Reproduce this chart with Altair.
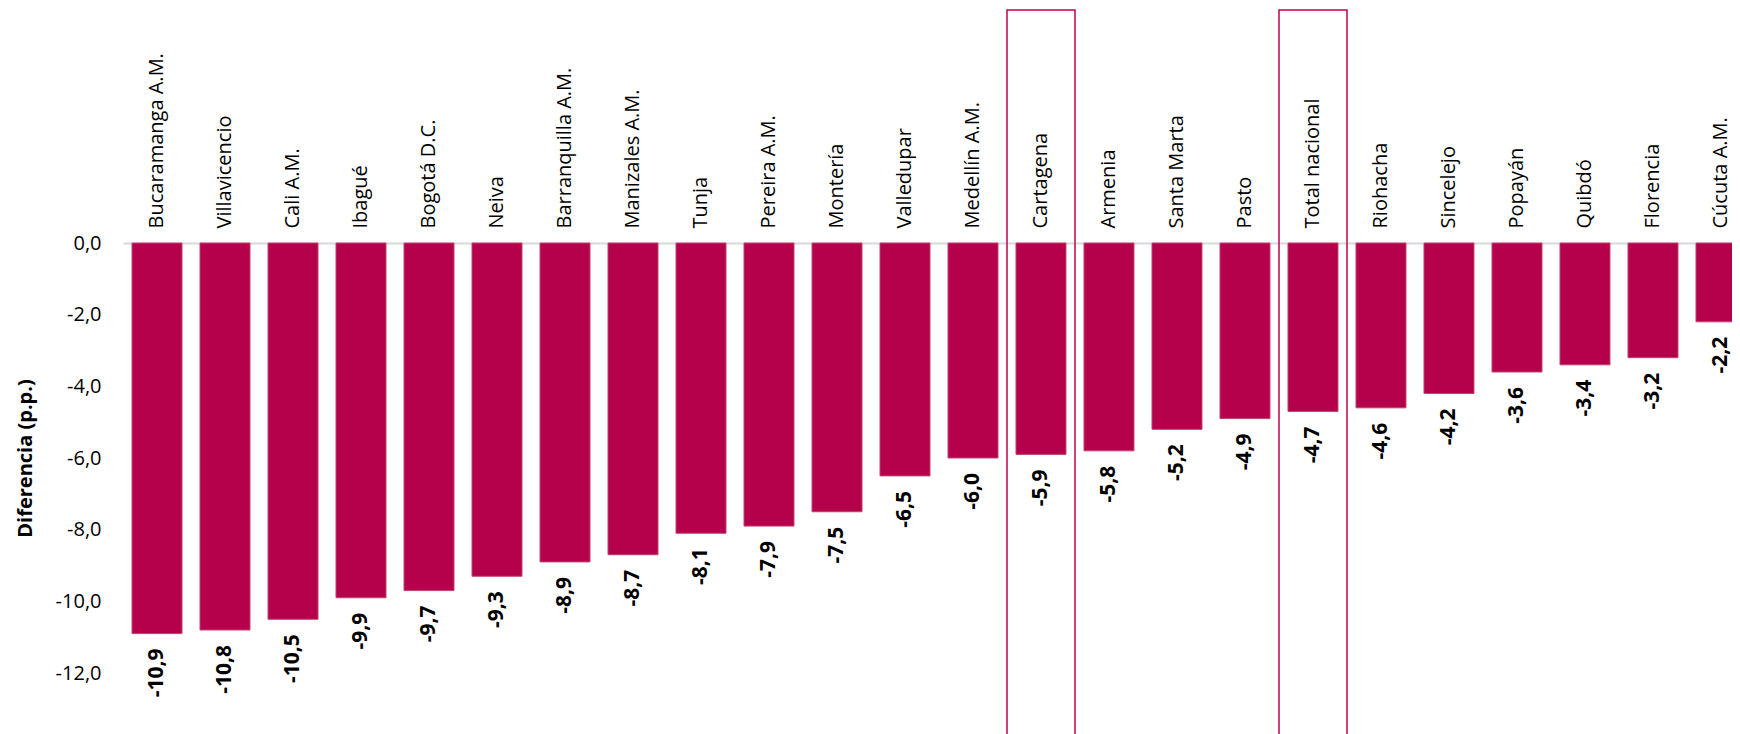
import altair as alt
import pandas as pd

categories = ["Bucaramanga A.M.", "Villavicencio", "Cali A.M.", "Ibagué", "Bogotá D.C.",
              "Neiva", "Barranquilla A.M.", "Manizales A.M.", "Tunja", "Pereira A.M.",
              "Montería", "Valledupar", "Medellín A.M.", "Cartagena", "Armenia",
              "Santa Marta", "Pasto", "Total nacional", "Riohacha", "Sincelejo",
              "Popayán", "Quibdó", "Florencia", "Cúcuta A.M."]
values = [-10.9, -10.8, -10.5, -9.9, -9.7, -9.3, -8.9, -8.7, -8.1, -7.9, -7.5, -6.5,
          -6.0, -5.9, -5.8, -5.2, -4.9, -4.7, -4.6, -4.2, -3.6, -3.4, -3.2, -2.2]
highlighted = ["Cartagena", "Total nacional"]
highlight_top = [6.5, 6.5]
highlight_bottom = [-15.0, -15.0]
y_ticks = [0, -2, -4, -6, -8, -10, -12]

df = pd.DataFrame({"ciudad": categories, "valor": values})
hl = pd.DataFrame({"ciudad": highlighted, "top": highlight_top, "bottom": highlight_bottom})

FONT = "Open Sans"
BAR = "#B5004B"

xscale = alt.Scale(domain=categories, paddingInner=0.2647, paddingOuter=0.1324)
yscale = alt.Scale(domain=[-12, 0], nice=False, zero=False)

bars = alt.Chart(df).mark_bar(color=BAR, stroke="#C24272", strokeWidth=1).encode(
    x=alt.X("ciudad:N", sort=categories, scale=xscale,
            axis=alt.Axis(orient="top", title=None, labelAngle=-90, labelFontSize=20,
                          labelFont=FONT, labelColor="#000000", labelPadding=15,
                          labelLimit=400, ticks=False, domain=True,
                          domainColor="#D9D9D9", domainWidth=2)),
    y=alt.Y("valor:Q", scale=yscale,
            axis=alt.Axis(values=y_ticks, grid=False, domain=False, ticks=False,
                          labelFontSize=20, labelFont=FONT, labelColor="#000000",
                          labelPadding=22,
                          labelExpr="replace(replace(format(datum.value, '.1f'), '.', ','), '\u2212', '-')",
                          title="Diferencia (p.p.)", titleFont=FONT, titleFontSize=20,
                          titleFontWeight="bold", titleColor="#000000", titlePadding=20)),
)

labels = alt.Chart(df).transform_calculate(
    lab="replace(replace(format(datum.valor, '.1f'), '.', ','), '\u2212', '-')"
).mark_text(angle=270, align="right", baseline="middle", dx=-15, fontSize=21,
            fontWeight="bold", font=FONT, color="#000000").encode(
    x=alt.X("ciudad:N", sort=categories, scale=xscale),
    y=alt.Y("valor:Q", scale=yscale),
    text="lab:N",
)

boxes = alt.Chart(hl).mark_bar(filled=False, stroke="#C0004F", strokeWidth=1.5,
                              width=alt.RelativeBandSize(1.36)).encode(
    x=alt.X("ciudad:N", sort=categories, scale=xscale),
    y=alt.Y("top:Q", scale=yscale),
    y2="bottom:Q",
)

chart = alt.layer(bars, labels, boxes).properties(
    width=1632, height=430,
    autosize=alt.AutoSizeParams(type="none"),
    padding={"left": 115, "top": 235, "right": -15, "bottom": 61},
).configure_view(stroke=None)

chart.save("out.html", embed_options={
    "renderer": "svg", "actions": False,
    "defaultStyle": ".vega-embed svg { flex-shrink: 0 !important; } body { margin-bottom: 0 !important; }",
})
